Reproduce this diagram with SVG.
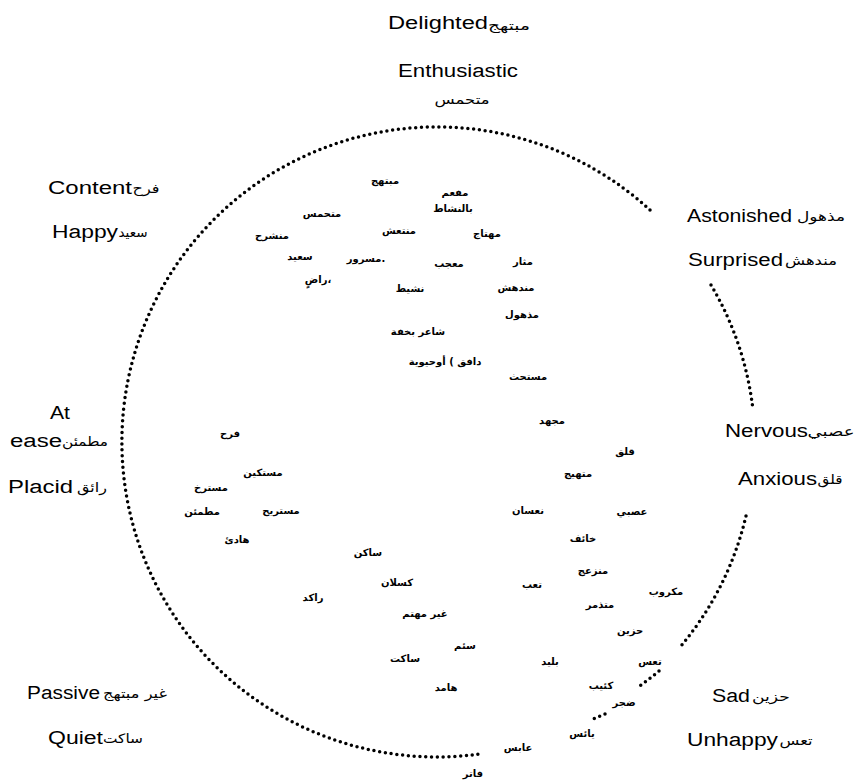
<svg xmlns="http://www.w3.org/2000/svg" width="856" height="781" viewBox="0 0 856 781">
<style>
.en{font-family:"Liberation Sans",Arial,sans-serif;font-size:18px;fill:#000}
.ar{font-family:"DejaVu Sans",sans-serif;font-size:13px;fill:#000;text-anchor:middle}
.w{font-family:"DejaVu Sans",sans-serif;font-size:10px;font-weight:bold;fill:#000;text-anchor:middle}
.dot{fill:none;stroke:#000;stroke-width:3.5;stroke-linecap:round;stroke-dasharray:0 5.8}
</style>
<rect width="856" height="781" fill="#fff"/>
<g id="connectors">
<path class="dot" d="M650,210 A315,315 0 1 0 480,754"/>
<path class="dot" d="M711,285 A315,315 0 0 1 753,410"/>
<path class="dot" d="M746,516 A315,315 0 0 1 681,646"/>
<path class="dot" d="M659,671 A315,315 0 0 1 637,688"/>
<path class="dot" d="M605,714 A315,315 0 0 1 593,719"/>
</g>
<g id="delighted"><text class="en" x="388" y="29" textLength="100" lengthAdjust="spacingAndGlyphs">Delighted</text><text class="ar" x="509" y="30" textLength="42" lengthAdjust="spacingAndGlyphs">مبتهج</text></g>
<g id="enthusiastic"><text class="en" x="398" y="77" textLength="120" lengthAdjust="spacingAndGlyphs">Enthusiastic</text><text class="ar" x="462" y="104" textLength="55" lengthAdjust="spacingAndGlyphs">متحمس</text></g>
<g id="content"><text class="en" x="48" y="194" textLength="84" lengthAdjust="spacingAndGlyphs">Content</text><text class="ar" x="146" y="193" textLength="27" lengthAdjust="spacingAndGlyphs">فرح</text></g>
<g id="happy"><text class="en" x="52" y="238" textLength="66" lengthAdjust="spacingAndGlyphs">Happy</text><text class="ar" x="133" y="237" textLength="29" lengthAdjust="spacingAndGlyphs">سعيد</text></g>
<g id="astonished"><text class="en" x="687" y="222" textLength="105" lengthAdjust="spacingAndGlyphs">Astonished</text><text class="ar" x="821" y="221" textLength="48" lengthAdjust="spacingAndGlyphs">مذهول</text></g>
<g id="surprised"><text class="en" x="688" y="266" textLength="95" lengthAdjust="spacingAndGlyphs">Surprised</text><text class="ar" x="811" y="265" textLength="52" lengthAdjust="spacingAndGlyphs">مندهش</text></g>
<g id="atease"><text class="en" x="50" y="419" textLength="20" lengthAdjust="spacingAndGlyphs">At</text><text class="en" x="10" y="447" textLength="52" lengthAdjust="spacingAndGlyphs">ease</text><text class="ar" x="85" y="446" textLength="46" lengthAdjust="spacingAndGlyphs">مطمئن</text></g>
<g id="placid"><text class="en" x="8" y="493" textLength="65" lengthAdjust="spacingAndGlyphs">Placid</text><text class="ar" x="92" y="492" textLength="30" lengthAdjust="spacingAndGlyphs">رائق</text></g>
<g id="nervous"><text class="en" x="725" y="437" textLength="83" lengthAdjust="spacingAndGlyphs">Nervous</text><text class="ar" x="831" y="436" textLength="47" lengthAdjust="spacingAndGlyphs">عصبي</text></g>
<g id="anxious"><text class="en" x="738" y="485" textLength="79" lengthAdjust="spacingAndGlyphs">Anxious</text><text class="ar" x="830" y="484" textLength="25" lengthAdjust="spacingAndGlyphs">قلق</text></g>
<g id="passive"><text class="en" x="27" y="699" textLength="73" lengthAdjust="spacingAndGlyphs">Passive</text><text class="ar" x="135" y="698" textLength="64" lengthAdjust="spacingAndGlyphs">غير مبتهج</text></g>
<g id="quiet"><text class="en" x="48" y="744" textLength="55" lengthAdjust="spacingAndGlyphs">Quiet</text><text class="ar" x="123" y="743" textLength="40" lengthAdjust="spacingAndGlyphs">ساكت</text></g>
<g id="sad"><text class="en" x="712" y="702" textLength="38" lengthAdjust="spacingAndGlyphs">Sad</text><text class="ar" x="771" y="701" textLength="38" lengthAdjust="spacingAndGlyphs">حزين</text></g>
<g id="unhappy"><text class="en" x="687" y="746" textLength="91" lengthAdjust="spacingAndGlyphs">Unhappy</text><text class="ar" x="796" y="745" textLength="33" lengthAdjust="spacingAndGlyphs">تعس</text></g>
<g id="words">
<g id="w1"><text class="w" x="385" y="184">مبتهج</text></g>
<g id="w2"><text class="w" x="455" y="196">مفعم</text></g>
<g id="w3"><text class="w" x="453" y="212">بالنشاط</text></g>
<g id="w4"><text class="w" x="322" y="217">متحمس</text></g>
<g id="w5"><text class="w" x="399" y="234">منتعش</text></g>
<g id="w6"><text class="w" x="487" y="237">مهتاج</text></g>
<g id="w7"><text class="w" x="272" y="239">منشرح</text></g>
<g id="w8"><text class="w" x="300" y="260">سعيد</text></g>
<g id="w9"><text class="w" x="366" y="262">مسرور.</text></g>
<g id="w10"><text class="w" x="449" y="267">معجب</text></g>
<g id="w11"><text class="w" x="523" y="265">مثار</text></g>
<g id="w12"><text class="w" x="318" y="283">راضٍ،</text></g>
<g id="w13"><text class="w" x="410" y="292">نشيط</text></g>
<g id="w14"><text class="w" x="516" y="291">مندهش</text></g>
<g id="w15"><text class="w" x="522" y="318">مذهول</text></g>
<g id="w16"><text class="w" x="418" y="335">شاعر بخفة</text></g>
<g id="w17"><text class="w" x="445" y="365">دافق ) أوحيوية</text></g>
<g id="w18"><text class="w" x="528" y="380">مستحث</text></g>
<g id="w19"><text class="w" x="552" y="424">مجهد</text></g>
<g id="w20"><text class="w" x="230" y="437">فرح</text></g>
<g id="w21"><text class="w" x="625" y="455">قلق</text></g>
<g id="w22"><text class="w" x="263" y="476">مستكين</text></g>
<g id="w23"><text class="w" x="578" y="477">متهيج</text></g>
<g id="w24"><text class="w" x="211" y="491">مسترخ</text></g>
<g id="w25"><text class="w" x="202" y="515">مطمئن</text></g>
<g id="w26"><text class="w" x="281" y="514">مستريح</text></g>
<g id="w27"><text class="w" x="528" y="514">نعسان</text></g>
<g id="w28"><text class="w" x="632" y="515">عصبي</text></g>
<g id="w29"><text class="w" x="583" y="542">خائف</text></g>
<g id="w30"><text class="w" x="237" y="543">هادئ</text></g>
<g id="w31"><text class="w" x="368" y="556">ساكن</text></g>
<g id="w32"><text class="w" x="593" y="574">منزعج</text></g>
<g id="w33"><text class="w" x="397" y="586">كسلان</text></g>
<g id="w34"><text class="w" x="532" y="588">تعب</text></g>
<g id="w35"><text class="w" x="666" y="595">مكروب</text></g>
<g id="w36"><text class="w" x="313" y="601">راكد</text></g>
<g id="w37"><text class="w" x="600" y="608">متذمر</text></g>
<g id="w38"><text class="w" x="425" y="617">غير مهتم</text></g>
<g id="w39"><text class="w" x="630" y="634">حزين</text></g>
<g id="w40"><text class="w" x="465" y="649">سئم</text></g>
<g id="w41"><text class="w" x="405" y="662">ساكت</text></g>
<g id="w42"><text class="w" x="550" y="665">بليد</text></g>
<g id="w43"><text class="w" x="650" y="665">تعس</text></g>
<g id="w44"><text class="w" x="601" y="689">كئيب</text></g>
<g id="w45"><text class="w" x="446" y="691">هامد</text></g>
<g id="w46"><text class="w" x="624" y="706">ضجر</text></g>
<g id="w47"><text class="w" x="582" y="737">يائس</text></g>
<g id="w48"><text class="w" x="518" y="751">عابس</text></g>
<g id="w49"><text class="w" x="473" y="777">فاتر</text></g>
</g>
</svg>
